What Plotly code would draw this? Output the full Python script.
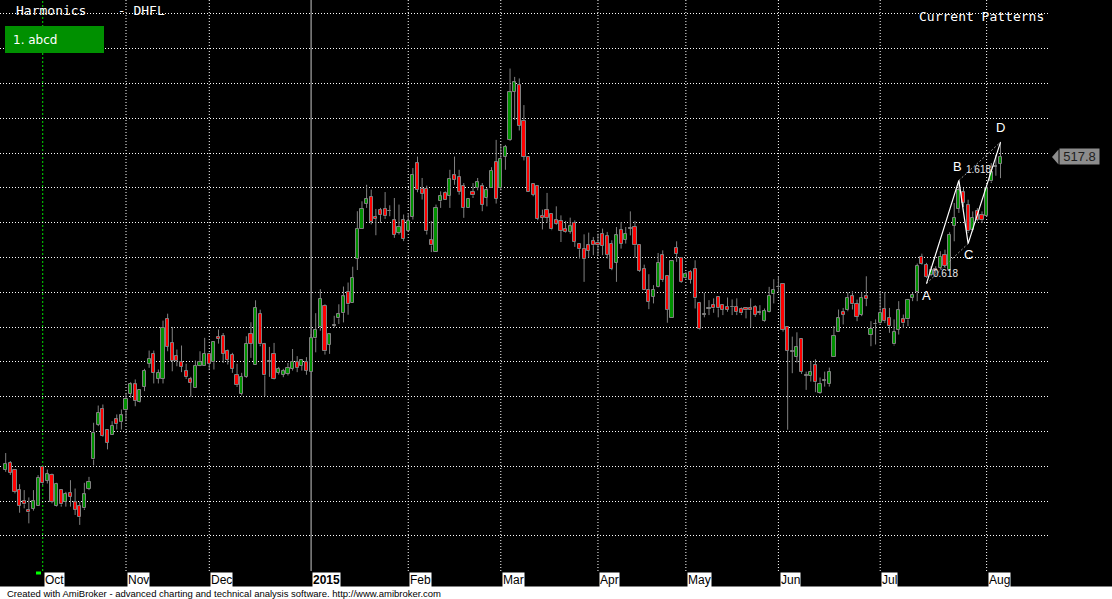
import plotly.graph_objects as go

# ---------------- data ----------------
opens = [338.1,341.9,337.7,326.3,319.8,314.7,315.6,316.9,339.6,331.6,
         334.9,317.1,326.3,319.6,324.9,319.2,317.3,315.8,327.2,343.9,
         364.0,373.0,361.1,357.9,366.9,365.4,372.2,381.8,387.0,376.8,
         385.6,399.0,404.6,390.2,390.2,424.7,410.9,403.6,399.8,395.0,
         389.9,385.1,397.9,397.9,404.8,399.8,414.4,414.7,406.5,404.2,
         392.7,381.6,391.4,416.3,398.1,427.7,410.0,400.0,404.6,393.7,
         392.7,393.1,396.0,399.8,397.7,399.8,394.1,413.5,419.8,432.2,
         409.7,420.8,425.0,428.0,440.2,434.1,459.3,476.5,491.0,494.8,
         483.3,487.2,487.9,486.6,481.4,474.2,481.4,475.5,483.3,514.2,
         499.4,499.4,470.0,463.3,492.3,497.1,495.5,507.2,506.2,500.9,
         488.5,497.6,499.9,500.9,494.2,499.9,514.8,499.9,518.0,527.6,
         555.2,559.0,538.5,517.7,502.2,500.9,484.1,487.2,485.2,481.4,
         481.0,476.6,474.7,480.0,468.0,465.1,467.0,469.5,468.5,473.7,
         472.2,468.0,457.1,476.0,470.3,476.4,477.5,467.0,453.6,441.6,
         437.4,443.1,461.3,449.2,425.0,465.7,459.9,448.5,451.7,453.6,
         434.0,427.1,430.5,432.6,437.4,432.6,431.7,431.3,431.7,430.3,
         430.7,430.7,431.3,428.2,423.7,428.8,439.3,442.9,445.0,419.8,
         405.9,403.0,413.0,392.1,391.9,398.1,382.2,389.1,387.2,403.0,
         417.4,428.6,429.7,437.7,433.3,427.2,437.7,415.7,421.5,422.1,
         430.5,425.3,410.0,418.6,424.4,424.4,436.8,440.0,460.3,455.9,
         450.2,453.4,454.0,461.7,452.7,478.3,487.9,497.4,490.3,475.6,
         486.5,484.2,483.7,503.7,512.0,513.8]
highs = [347.6,343.0,337.7,329.7,326.3,322.1,326.3,334.9,339.6,338.1,
         335.8,330.5,326.3,325.3,332.0,327.2,319.6,330.5,333.9,365.0,
         374.9,375.5,361.1,365.9,369.8,372.6,382.2,388.3,389.9,384.1,
         396.0,406.5,406.5,395.6,423.7,427.7,420.1,407.1,409.4,399.0,
         391.4,400.8,406.1,413.8,405.2,411.9,418.6,416.6,407.1,405.2,
         399.0,393.7,414.7,422.8,435.4,430.0,410.9,408.6,410.9,397.1,
         396.0,399.4,407.4,403.3,400.8,402.7,416.0,428.0,441.8,433.1,
         416.6,426.5,433.1,443.3,445.6,454.7,486.6,492.3,501.8,499.0,
         487.9,488.5,497.6,490.0,494.2,490.4,484.7,485.6,511.4,518.0,
         505.7,501.3,480.9,490.4,498.0,498.0,510.4,518.0,510.4,502.8,
         493.6,502.8,505.7,502.8,499.9,511.9,527.6,524.7,524.7,568.6,
         563.8,562.9,547.6,517.7,502.2,500.9,487.5,497.1,485.2,489.4,
         484.2,481.0,482.9,481.3,468.3,473.3,474.3,471.8,473.7,476.6,
         474.7,469.9,477.5,480.4,477.5,486.5,481.0,467.0,455.9,450.4,
         444.1,462.6,464.1,449.2,458.4,469.3,459.9,451.7,452.7,458.4,
         434.5,439.7,435.5,436.5,437.4,432.6,437.0,435.9,436.5,431.3,
         431.3,436.5,432.6,432.6,430.7,443.1,447.5,449.2,445.0,419.8,
         414.5,417.0,413.0,394.4,400.2,401.5,391.0,394.4,396.7,420.6,
         430.1,431.0,440.0,440.6,435.8,439.7,449.2,423.4,424.4,440.6,
         440.0,431.0,424.4,434.9,427.2,436.2,439.7,456.5,462.2,456.9,
         455.0,455.0,463.6,464.5,474.5,491.3,503.7,499.9,493.2,486.5,
         488.4,486.5,500.9,514.3,519.0,526.1]
lows = [336.8,335.0,324.4,313.3,315.8,307.2,314.5,316.9,329.1,330.1,
        318.7,316.8,316.8,316.8,316.8,312.0,306.3,314.9,326.3,340.5,
        363.1,356.9,349.7,357.9,361.1,361.1,365.9,379.3,374.5,376.5,
        383.2,396.6,387.6,387.6,387.6,406.1,394.6,397.5,394.1,390.2,
        379.9,385.1,397.5,397.9,395.6,395.6,410.5,399.4,398.5,393.7,
        385.6,380.7,390.8,402.3,398.1,409.0,380.3,391.4,389.9,392.7,
        391.2,392.2,395.0,394.1,395.0,392.6,394.1,405.5,417.9,404.2,
        404.6,419.8,421.8,422.7,427.1,434.1,452.8,476.5,488.5,479.0,
        472.8,479.9,482.2,483.7,471.3,473.2,469.4,474.8,481.8,497.5,
        493.3,473.2,463.1,463.3,488.5,493.3,488.5,501.8,496.1,482.8,
        488.5,494.2,498.6,486.6,489.4,499.9,491.0,498.6,510.4,527.0,
        539.0,533.0,515.8,497.5,495.2,481.4,476.1,480.0,475.7,478.8,
        468.9,474.3,473.7,466.1,459.4,446.0,459.9,461.3,461.3,461.3,
        459.4,452.7,446.0,465.1,468.0,472.7,459.9,451.7,441.2,430.3,
        433.6,442.8,446.0,422.5,425.0,457.5,445.4,447.9,445.0,430.7,
        418.3,425.6,426.9,428.2,425.6,426.9,428.8,426.9,426.9,426.9,
        425.0,419.8,425.9,426.9,423.1,428.4,433.6,439.7,417.4,361.0,
        393.5,399.6,393.1,383.9,388.7,382.6,381.6,385.8,385.8,403.0,
        417.4,421.5,429.1,430.1,423.4,426.3,432.0,409.0,410.0,421.5,
        422.4,416.7,409.4,415.7,419.6,420.5,434.9,434.9,455.9,448.3,
        449.2,450.8,453.0,454.0,452.1,469.3,485.6,489.0,474.1,475.0,
        480.8,479.8,483.3,502.8,507.0,505.6]
closes = [341.5,336.4,325.3,317.3,318.1,313.5,319.8,333.5,330.1,335.4,
          319.6,329.7,318.1,324.0,322.5,314.9,310.7,323.8,330.9,359.2,
          370.7,357.3,353.5,363.4,364.2,369.2,378.8,387.0,377.4,384.1,
          395.0,401.7,393.7,393.7,419.5,408.6,400.4,400.4,397.1,391.2,
          387.9,397.9,399.8,404.8,399.0,411.3,413.2,404.8,401.0,396.0,
          386.6,391.4,410.5,410.5,431.0,410.0,392.2,400.0,390.2,396.0,
          394.6,396.4,400.2,396.4,400.8,395.0,413.5,418.5,436.4,406.1,
          415.8,420.8,427.3,437.6,433.0,448.4,476.5,487.9,493.6,480.3,
          482.2,484.3,483.7,486.6,473.2,477.6,470.8,481.0,507.6,499.0,
          496.7,475.1,466.9,488.5,495.2,493.3,505.1,504.7,497.6,488.5,
          493.6,495.7,503.2,490.4,498.6,509.8,493.6,516.7,523.4,554.9,
          560.6,535.8,518.0,497.5,496.1,482.2,482.8,482.8,476.1,479.5,
          475.2,474.7,477.9,468.9,464.7,459.4,463.8,467.0,467.4,466.6,
          461.7,453.6,472.7,468.0,473.7,476.4,467.0,452.3,441.2,434.5,
          441.6,457.1,447.0,430.1,457.8,462.2,446.0,450.4,447.0,436.5,
          418.7,427.1,430.5,430.7,430.7,430.1,430.1,431.3,428.6,427.9,
          429.6,429.6,426.9,428.2,429.2,437.8,441.6,442.9,418.3,406.5,
          405.9,408.4,394.2,392.1,394.4,388.3,387.2,389.1,394.4,414.9,
          425.0,427.2,436.8,433.0,425.9,436.8,436.2,419.0,421.5,428.2,
          423.4,420.5,417.1,429.7,422.1,435.8,438.7,455.3,456.5,448.8,
          453.0,452.2,460.3,455.0,473.1,482.7,498.6,491.3,475.0,482.7,
          481.7,481.4,499.9,508.9,512.0,517.8]

month_labels = ["Oct", "Nov", "Dec", "<b>2015</b>", "Feb", "Mar", "Apr", "May", "Jun", "Jul", "Aug"]
month_idx = [8, 26, 44, 66, 87, 107, 128, 147, 167, 189, 212]

pattern_names = ["A", "B", "C", "D"]
pattern_idx = [199, 206, 208, 215]
pattern_price = [445.0, 504.3, 468.0, 526.3]
name_idx = [198.9, 205.7, 208.0, 214.9]
name_price = [438.0, 512.3, 461.9, 534.9]
ratio_text = ["0.618", "1.618"]
ratio_idx = [203.2, 210.2]
ratio_price = [450.8, 510.4]

# ---------------- styling ----------------
GREEN = "#009100"
RED = "#ff0000"
GRAY = "#808080"
PLOT_W, PLOT_H = 1050, 571
PITCH, X0 = 4.627, 5.7

n = len(closes)
xs = list(range(n))
base, size, cols = [], [], []
for o, c in zip(opens, closes):
    base.append(min(o, c))
    size.append(max(abs(c - o), 0.4))
    cols.append(GRAY if c == o else (GREEN if c > o else RED))

wx, wy = [], []
for i in xs:
    top, bot = max(opens[i], closes[i]), min(opens[i], closes[i])
    wx += [i, i, None, i, i, None]
    wy += [top, highs[i], None, lows[i], bot, None]

fig = go.Figure()
fig.add_trace(go.Scatter(x=wx, y=wy, mode="lines", line=dict(color=GRAY, width=1),
                         hoverinfo="skip", showlegend=False))
fig.add_trace(go.Bar(x=xs, y=size, base=base, width=0.68,
                     marker=dict(color=cols, line=dict(color=GRAY, width=1)),
                     hoverinfo="skip", showlegend=False))

# harmonic pattern lines
fig.add_trace(go.Scatter(x=[pattern_idx[0], pattern_idx[2], None, pattern_idx[1], pattern_idx[3]],
                         y=[pattern_price[0], pattern_price[2], None, pattern_price[1], pattern_price[3]],
                         mode="lines", line=dict(color="#9a9a9a", width=1, dash="2px,2px"),
                         hoverinfo="skip", showlegend=False))
fig.add_trace(go.Scatter(x=pattern_idx, y=pattern_price, mode="lines",
                         line=dict(color="white", width=1.2), hoverinfo="skip", showlegend=False))

shapes = []
for lab, mi in zip(month_labels, month_idx):
    if lab == "Oct":
        ln = dict(color="#00e000", width=1, dash="2px,2px")
    elif "2015" in lab:
        ln = dict(color="#c8c8c8", width=1)
    else:
        ln = dict(color="white", width=1, dash="1px,2px")
    shapes.append(dict(type="line", xref="x", yref="paper", x0=mi, x1=mi, y0=0, y1=1, line=ln, layer="below"))

# footer white band
shapes.append(dict(type="rect", xref="paper", yref="paper", x0=-0.01, x1=1.07,
                   y0=-(599 + 5 - PLOT_H) / PLOT_H, y1=-(586.5 - PLOT_H) / PLOT_H,
                   fillcolor="white", line=dict(width=0)))
# green legend box
shapes.append(dict(type="rect", xref="paper", yref="paper", x0=5 / PLOT_W, x1=104 / PLOT_W,
                   y0=1 - 53 / PLOT_H, y1=1 - 26 / PLOT_H, fillcolor="#009000", line=dict(width=0)))
# small green marker under Oct
shapes.append(dict(type="rect", xref="paper", yref="paper", x0=36 / PLOT_W, x1=41 / PLOT_W,
                   y0=-3.5 / PLOT_H, y1=-0.5 / PLOT_H, fillcolor="#00ff00", line=dict(width=0)))
# price tag arrow
last = closes[-1]
half = 7.5 / (PLOT_H / (608.0 - 280.0))
shapes.append(dict(type="path", xref="paper", yref="y",
                   path=f"M {1052/PLOT_W},{last} L {1058.5/PLOT_W},{last+half} L {1058.5/PLOT_W},{last-half} Z",
                   fillcolor="#8c8c8c", line=dict(width=0)))

ann = []
for lab, mi in zip(month_labels, month_idx):
    ann.append(dict(text=lab, x=mi + 0.25, xref="x", y=-8.5 / PLOT_H, yref="paper",
                    xanchor="left", yanchor="middle", showarrow=False, bgcolor="white", borderpad=0,
                    font=dict(family="Liberation Sans, Arial", size=12, color="black")))
for nm, xi, yp in zip(pattern_names, name_idx, name_price):
    ann.append(dict(text=nm, x=xi, y=yp, xref="x", yref="y", showarrow=False,
                    font=dict(family="Liberation Sans, Arial", size=13, color="white")))
for rt, xi, yp in zip(ratio_text, ratio_idx, ratio_price):
    ann.append(dict(text=rt, x=xi, y=yp, xref="x", yref="y", showarrow=False,
                    font=dict(family="Liberation Sans, Arial", size=10, color="#e8e8e8")))
ann.append(dict(text=f"{last:.1f}", x=1058.5 / PLOT_W, xref="paper", y=last, yref="y",
                xanchor="left", yanchor="middle", showarrow=False, bgcolor="#8c8c8c",
                width=39, height=15, borderpad=0,
                font=dict(family="Liberation Sans, Arial", size=13, color="#1e1e1e")))
ann.append(dict(text="Harmonics\u00a0\u00a0\u00a0\u00a0-\u00a0DHFL", x=14 / PLOT_W, y=1 - 11 / PLOT_H,
                xref="paper", yref="paper", xanchor="left", yanchor="middle", showarrow=False,
                font=dict(family="DejaVu Sans Mono", size=13, color="white")))
ann.append(dict(text="Current Patterns", x=1046 / PLOT_W, y=1 - 16 / PLOT_H,
                xref="paper", yref="paper", xanchor="right", yanchor="middle", showarrow=False,
                font=dict(family="DejaVu Sans Mono", size=13, color="white")))
ann.append(dict(text="1. abcd", x=11 / PLOT_W, y=1 - 40 / PLOT_H,
                xref="paper", yref="paper", xanchor="left", yanchor="middle", showarrow=False,
                font=dict(family="DejaVu Sans", size=12, color="white")))
ann.append(dict(text="Created with AmiBroker - advanced charting and technical analysis software. http://www.amibroker.com",
                x=5 / PLOT_W, y=-(593 - PLOT_H) / PLOT_H, xref="paper", yref="paper",
                xanchor="left", yanchor="middle", showarrow=False,
                font=dict(family="Liberation Sans, Arial", size=9.5, color="black")))

fig.update_layout(
    width=1112, height=599,
    margin=dict(l=0, r=1112 - PLOT_W, t=0, b=599 - PLOT_H),
    paper_bgcolor="black", plot_bgcolor="black",
    shapes=shapes, annotations=ann, showlegend=False, bargap=0,
    xaxis=dict(range=[(0 - X0) / PITCH, (PLOT_W - X0) / PITCH], showgrid=False, zeroline=False,
               showticklabels=False, showline=False, ticks="", fixedrange=True),
    yaxis=dict(range=[279.8, 608.0], tick0=280, dtick=20, showgrid=True, gridcolor="white",
               griddash="1px,2px", gridwidth=1, zeroline=False, showticklabels=False,
               showline=False, ticks="", fixedrange=True),
)

fig.write_html("out.html", config={"displayModeBar": False},
               post_script="document.body.style.margin='0';document.body.style.padding='0';document.documentElement.style.overflow='hidden';")
